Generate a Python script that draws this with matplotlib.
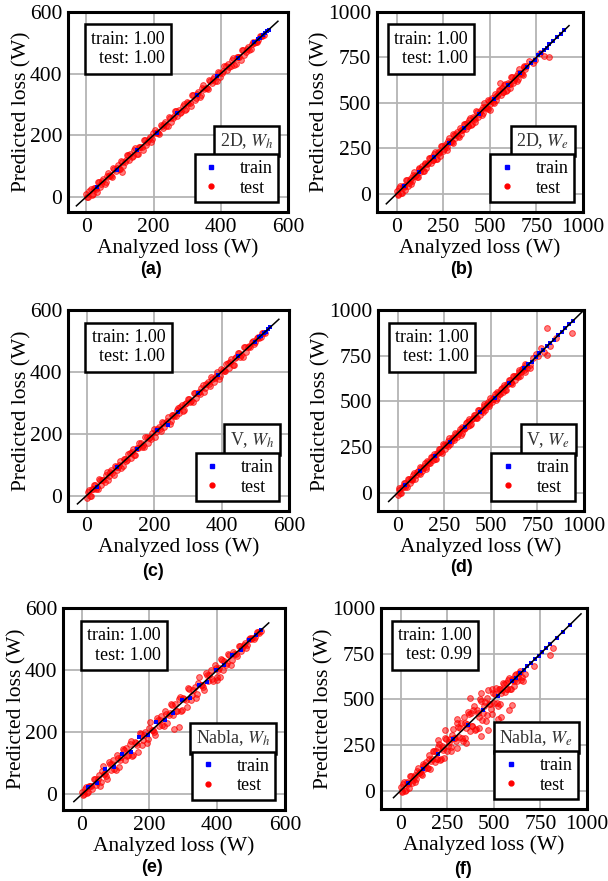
import matplotlib
matplotlib.use('Agg')
import matplotlib.pyplot as plt
from matplotlib.lines import Line2D

plt.rcParams['font.family'] = 'serif'
plt.rcParams['font.serif'] = ['Liberation Serif', 'DejaVu Serif']
plt.rcParams['mathtext.fontset'] = 'stix'

# analyzed losses shared by the W_h models (a, c, e) and the W_e models (b, d, f)
loss_h_x = [0, 6, 12, 19, 25, 31, 38, 44, 50, 57, 63, 70, 76, 83, 90, 96, 103, 110, 117, 124,
            131, 138, 145, 152, 160, 167, 174, 181, 188, 195, 203, 210, 217, 224, 231, 238, 246, 253, 260, 267,
            274, 282, 289, 296, 303, 311, 318, 325, 333, 340, 347, 355, 362, 369, 377, 384, 392, 399, 406, 414,
            421, 429, 436, 444, 451, 459, 466, 474, 481, 489, 496, 504, 512, 520, 528]
loss_h_x2 = [3, 9, 16, 22, 28, 35, 41, 47, 54, 60, 67, 73, 80, 87, 93, 100, 107, 114, 121, 128,
             135, 142, 149, 156, 164, 171, 178, 185, 192, 199, 207, 214, 221, 228, 235, 242, 250, 257, 264, 271,
             278, 286, 293, 300, 307, 315, 322, 329, 337, 344, 351, 359, 366, 373, 381, 388, 396, 403, 410, 418,
             425, 433, 440, 448, 455, 463, 470, 478, 485, 493, 500, 508, 516, 524]
loss_e_x = [0, 9, 19, 28, 38, 47, 56, 66, 75, 85, 94, 103, 113, 122, 132, 141, 150, 160, 169, 179,
            188, 197, 207, 216, 226, 235, 244, 254, 263, 273, 282, 291, 301, 310, 320, 329, 338, 348, 357, 367,
            376, 385, 395, 404, 414, 423, 432, 442, 451, 461, 470, 479, 489, 498, 508, 517, 526, 536, 545, 555,
            564, 573, 583, 592, 602, 611, 620, 630, 639, 649, 658, 667, 677, 686, 696]
loss_e_x2 = [5, 14, 24, 33, 42, 52, 61, 71, 80, 89, 99, 108, 118, 127, 136, 146, 155, 164, 174, 183,
             193, 202, 211, 221, 230, 240, 249, 258, 268, 277, 287, 296, 305, 315, 324, 334, 343, 352, 362, 371,
             381, 390, 399, 409, 418, 428, 437, 446, 456, 465, 475, 484, 493, 503, 512, 522, 531, 540, 550, 559,
             569, 578, 587, 597, 606, 616, 625, 634, 644, 653, 663, 672, 681, 691]

# (a) 2D, W_h
a_test_x = loss_h_x + loss_h_x2 + [107]
a_test_y = [9, 0, 25, 7, 27, 16, 49, 41, 56, 48, 78, 69, 63, 90, 94, 89, 115, 99, 118, 134,
            140, 132, 158, 140, 162, 152, 185, 178, 194, 186, 218, 209, 204, 231, 235, 231, 258, 242, 261, 277,
            283, 276, 302, 284, 305, 296, 329, 322, 339, 331, 362, 354, 349, 376, 381, 377, 404, 388, 407, 424,
            430, 423, 449, 432, 453, 444, 477, 471, 487, 480, 501, 503, 508, 523, 526,
            -2, 19, 4, 28, 26, 49, 32, 50, 40, 68, 67, 66, 92, 83, 102, 89, 112, 113, 134, 120,
            130, 152, 137, 162, 162, 185, 169, 188, 178, 207, 207, 207, 233, 224, 244, 231, 255, 256, 277, 263,
            273, 296, 281, 306, 305, 329, 313, 332, 323, 352, 351, 352, 378, 369, 390, 377, 401, 402, 423, 410,
            420, 443, 428, 454, 453, 477, 461, 481, 478, 497, 500, 504, 522, 522,
            81]
a_train_x = [30, 90, 150, 210, 270, 330, 390, 450, 500, 510, 518, 525, 532, 538, 544]
a_train_y = [31, 88, 152, 208, 271, 329, 392, 449, 502, 511, 517, 526, 531, 539, 543]

# (b) 2D, W_e
b_test_x = loss_e_x + loss_e_x2 + [712, 730, 745, 770, 790, 815, 500, 555]
b_test_y = [16, -2, 42, 6, 42, 20, 76, 61, 86, 69, 121, 101, 90, 135, 139, 128, 172, 140, 171, 197,
            204, 186, 230, 194, 230, 208, 264, 249, 274, 257, 309, 289, 278, 323, 327, 316, 360, 328, 359, 385,
            392, 374, 418, 382, 418, 396, 452, 437, 462, 445, 497, 477, 466, 511, 515, 504, 548, 516, 547, 573,
            580, 562, 606, 570, 606, 584, 640, 625, 650, 633, 685, 665, 654, 699, 703,
            -4, 32, 2, 44, 38, 77, 45, 76, 55, 103, 99, 95, 140, 120, 152, 126, 164, 162, 197, 169,
            184, 220, 189, 232, 226, 265, 233, 263, 243, 291, 287, 283, 327, 308, 340, 314, 352, 350, 385, 357,
            372, 408, 377, 420, 414, 453, 421, 451, 431, 479, 475, 471, 515, 496, 528, 502, 540, 538, 573, 545,
            560, 596, 565, 608, 602, 641, 609, 639, 619, 667, 663, 659, 703, 684,
            728, 722, 735, 772, 760, 755, 460, 610]
b_train_x = [40, 120, 200, 280, 360, 440, 520, 600, 660, 700, 720, 740, 760, 775, 790, 805, 820, 840, 860, 880, 900]
b_train_y = [42, 118, 203, 277, 362, 438, 523, 598, 662, 698, 722, 738, 763, 772, 792, 803, 822, 838, 862, 878, 902]

# (c) V, W_h
c_test_x = loss_h_x + loss_h_x2
c_test_y = [-8, 18, -2, 22, 35, 26, 53, 33, 51, 65, 50, 76, 74, 96, 81, 100, 88, 119, 113, 135,
            123, 150, 131, 155, 170, 162, 189, 170, 189, 203, 190, 216, 215, 237, 222, 242, 231, 262, 256, 278,
            266, 294, 275, 299, 313, 306, 333, 314, 334, 348, 334, 361, 360, 382, 368, 388, 377, 408, 402, 425,
            413, 441, 422, 447, 461, 454, 481, 463, 482, 497, 490, 510, 510, 525, 525,
            10, -3, 20, 35, 22, 21, 51, 49, 45, 75, 64, 81, 67, 92, 92, 112, 97, 117, 114, 139,
            142, 130, 153, 169, 158, 157, 188, 187, 183, 214, 204, 222, 208, 233, 234, 254, 240, 260, 257, 282,
            285, 274, 297, 313, 301, 301, 332, 331, 328, 359, 348, 367, 353, 378, 380, 400, 386, 406, 403, 429,
            432, 421, 444, 461, 449, 449, 480, 480, 480, 500, 498, 512, 513, 526]
c_train_x = [30, 90, 150, 210, 240, 270, 330, 390, 450, 500, 510, 518, 525, 532, 538, 545]
c_train_y = [29, 91, 149, 212, 228, 271, 331, 389, 451, 498, 512, 517, 527, 530, 540, 544]

# (d) V, W_e
d_test_x = loss_e_x + loss_e_x2 + [710, 712, 725, 740, 755, 770, 785, 800, 800, 820, 850, 938]
d_test_y = [-11, 26, -1, 32, 52, 40, 77, 51, 76, 96, 76, 111, 110, 140, 119, 147, 129, 173, 163, 194,
            177, 214, 187, 220, 240, 228, 265, 239, 264, 284, 264, 299, 298, 328, 307, 335, 317, 361, 351, 382,
            365, 402, 375, 408, 428, 416, 453, 427, 452, 472, 452, 487, 486, 516, 495, 523, 505, 549, 539, 570,
            553, 590, 563, 596, 616, 604, 641, 615, 640, 660, 640, 675, 674, 704, 683,
            15, -3, 30, 51, 34, 32, 75, 74, 67, 110, 95, 119, 100, 134, 135, 163, 141, 168, 164, 198,
            203, 185, 217, 239, 222, 220, 263, 261, 255, 298, 283, 307, 287, 322, 323, 351, 329, 356, 352, 386,
            391, 373, 405, 427, 410, 408, 451, 449, 443, 486, 471, 495, 475, 510, 511, 539, 517, 544, 540, 574,
            579, 561, 593, 615, 598, 596, 639, 637, 631, 674, 659, 683, 663, 698,
            680, 700, 735, 760, 748, 790, 770, 753, 900, 805, 845, 873]
d_train_x = [40, 120, 200, 280, 360, 440, 520, 600, 680, 700, 720, 740, 760, 780, 800, 820, 840, 860, 880, 900, 920, 940]
d_train_y = [41, 119, 202, 279, 361, 441, 518, 601, 681, 702, 718, 741, 762, 779, 801, 822, 838, 861, 882, 899, 921, 938]

# (e) Nabla, W_h
e_test_x = loss_h_x + loss_h_x2 + [400, 409, 272, 288]
e_test_y = [9, 0, 25, 7, 27, 16, 49, 41, 62, 39, 93, 68, 50, 97, 98, 82, 127, 88, 119, 144,
            149, 126, 171, 128, 164, 137, 196, 175, 200, 177, 233, 208, 191, 238, 239, 224, 270, 231, 262, 287,
            292, 270, 315, 272, 307, 281, 340, 319, 345, 322, 377, 353, 336, 383, 385, 370, 416, 377, 408, 434,
            430, 423, 449, 432, 453, 444, 477, 471, 487, 480, 503, 503, 506, 524, 526,
            -2, 19, 4, 28, 26, 49, 32, 50, 26, 76, 67, 59, 104, 79, 111, 78, 117, 112, 147, 112,
            125, 162, 125, 168, 160, 199, 160, 191, 164, 215, 207, 200, 245, 220, 253, 220, 260, 255, 290, 255,
            268, 306, 269, 312, 303, 343, 304, 335, 309, 360, 351, 345, 390, 365, 399, 366, 406, 401, 436, 402,
            415, 453, 416, 460, 453, 477, 461, 481, 471, 501, 500, 501, 522, 520,
            367, 378, 212, 218]
e_train_x = [20, 45, 70, 95, 120, 145, 170, 195, 220, 245, 270, 295, 320, 345, 370, 395, 420, 445, 470, 495, 515, 530]
e_train_y = [25, 38, 82, 88, 131, 138, 185, 190, 232, 238, 262, 305, 312, 352, 361, 402, 415, 450, 466, 498, 512, 528]

# (f) Nabla, W_e
f_test_x = (loss_e_x[:70] + loss_e_x2[:69]
            + [200, 240, 300, 370, 430, 350, 430, 470, 520, 540, 580, 600, 655, 665, 715, 800, 820])
f_test_y = [19, -4, 47, 2, 43, 15, 80, 60, 88, 66, 126, 101, 85, 138, 140, 125, 194, 120, 173, 215,
            220, 175, 253, 172, 234, 181, 284, 244, 285, 241, 336, 287, 232, 349, 341, 290, 404, 288, 363, 421,
            424, 352, 464, 338, 426, 342, 492, 427, 484, 413, 551, 473, 420, 537, 529, 478, 556, 476, 551, 582,
            588, 557, 617, 559, 608, 571, 640, 622, 655, 625,
            -6, 36, -2, 46, 37, 82, 42, 77, 50, 106, 99, 92, 144, 119, 155, 122, 173, 160, 220, 155,
            175, 238, 167, 243, 222, 290, 217, 268, 218, 305, 287, 270, 371, 294, 372, 274, 370, 346, 431, 329,
            354, 444, 333, 442, 406, 503, 389, 461, 381, 507, 475, 445, 559, 482, 560, 462, 558, 534, 590, 538,
            555, 605, 554, 614, 600, 636, 601, 642, 606,
            280, 330, 390, 505, 535, 260, 300, 330, 395, 405, 440, 470, 600, 640, 680, 745, 780]
f_train_x = [40, 120, 200, 280, 360, 440, 520, 600, 620, 640, 660, 680, 700, 720, 740, 760, 780, 800, 840, 870, 910]
f_train_y = [41, 121, 199, 281, 358, 441, 519, 601, 618, 642, 659, 681, 699, 722, 739, 761, 779, 802, 838, 871, 909]

panel_labels = ['(a)', '(b)', '(c)', '(d)', '(e)', '(f)']
model_tags = ['2D, $W_h$', '2D, $W_e$', 'V, $W_h$', 'V, $W_e$', 'Nabla, $W_h$', 'Nabla, $W_e$']
train_scores = [1.00, 1.00, 1.00, 1.00, 1.00, 1.00]
test_scores = [1.00, 1.00, 1.00, 1.00, 1.00, 0.99]
diag_lo = [-30, -55, -27, -48, -23, -38]
diag_hi = [570, 925, 570, 990, 552, 968]
ticks_h = [0, 200, 400, 600]
ticks_e = [0, 250, 500, 750, 1000]

test_sets = [(a_test_x, a_test_y), (b_test_x, b_test_y), (c_test_x, c_test_y),
             (d_test_x, d_test_y), (e_test_x, e_test_y), (f_test_x, f_test_y)]
train_sets = [(a_train_x, a_train_y), (b_train_x, b_train_y), (c_train_x, c_train_y),
              (d_train_x, d_train_y), (e_train_x, e_train_y), (f_train_x, f_train_y)]

W, H = 608, 881
fig = plt.figure(figsize=(W / 100, H / 100), dpi=100)

# axes boxes in pixels: left, top, right, bottom
boxes = [(68, 12, 288, 212), (377, 12, 583, 212),
         (68, 310, 289, 511), (378, 310, 584, 511),
         (63, 608, 285, 810), (381, 608, 587, 809)]
letter_pos = [(151, 269), (462, 269), (153, 571), (462, 568), (152, 867), (463, 869)]

for i in range(6):
    l, t, r, b = boxes[i]
    ax = fig.add_axes([l / W, 1 - b / H, (r - l) / W, (b - t) / H])
    ax.set_axisbelow(True)
    ax.grid(True, color='#b4b4b4', lw=1.3)

    tx, ty = test_sets[i]
    rx, ry = train_sets[i]
    ax.scatter(tx, ty, marker='o', s=17, facecolor=(1, 0, 0, 0.5),
               edgecolor=(1, 0, 0, 0.7), lw=0.7, zorder=2)
    ax.scatter(rx, ry, marker='s', s=5, color='blue', lw=0, zorder=3)
    ax.plot([diag_lo[i], diag_hi[i]], [diag_lo[i], diag_hi[i]], color='k', lw=1.1, zorder=4)

    if i % 2 == 0:
        ax.set_xlim(-55, 600)
        ax.set_ylim(-50, 600)
        ax.set_xticks(ticks_h)
        ax.set_yticks(ticks_h)
    else:
        ax.set_xlim(-105, 1000)
        ax.set_ylim(-100, 1000)
        ax.set_xticks(ticks_e)
        ax.set_yticks(ticks_e)
    ax.tick_params(length=0, labelsize=15.5, pad=4)
    for sp in ax.spines.values():
        sp.set_linewidth(2.2)
    ax.set_xlabel('Analyzed loss (W)', fontsize=15.5, labelpad=1)
    ax.set_ylabel('Predicted loss (W)', fontsize=15.5, labelpad=-1)

    ax.text(0.44, 0.815, f'train: {train_scores[i]:.2f}\ntest: {test_scores[i]:.2f}',
            transform=ax.transAxes, ha='right', va='center', multialignment='right', fontsize=13,
            bbox=dict(boxstyle='square,pad=0.35', fc='white', ec='black', lw=1.8), zorder=6)
    ax.text(0.935, 0.355, model_tags[i], transform=ax.transAxes, ha='right', va='center',
            fontsize=13, color='#333333',
            bbox=dict(boxstyle='square,pad=0.3', fc='white', ec='black', lw=1.8), zorder=6)

    handles = [Line2D([], [], ls='none', marker='s', ms=3, color='blue'),
               Line2D([], [], ls='none', marker='o', ms=3.5, color='red')]
    leg = ax.legend(handles, ['train', 'test'], loc='lower right', bbox_to_anchor=(0.955, 0.05),
                    borderaxespad=0, fancybox=False, edgecolor='black', framealpha=1, fontsize=13,
                    handlelength=1.2, handletextpad=1.0, borderpad=0.3, labelspacing=0.15)
    leg.get_frame().set_linewidth(1.8)
    leg.set_zorder(7)

    cx, cy = letter_pos[i]
    fig.text(cx / W, 1 - cy / H, panel_labels[i], ha='center', va='center', fontsize=13,
             fontweight='bold', family='Liberation Sans')

fig.savefig('out.png', dpi=100)
